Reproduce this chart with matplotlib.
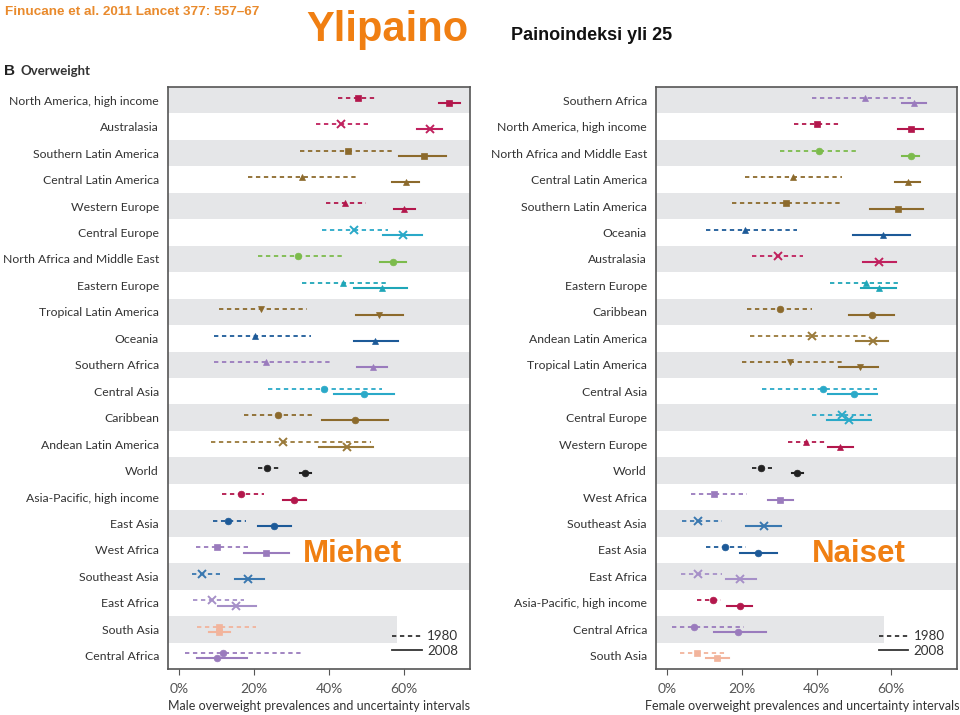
import matplotlib.pyplot as plt
from matplotlib.lines import Line2D

# Miehet (male) overweight prevalence, %
male_regions = ["North America, high income", "Australasia", "Southern Latin America",
                "Central Latin America", "Western Europe", "Central Europe",
                "North Africa and Middle East", "Eastern Europe", "Tropical Latin America",
                "Oceania", "Southern Africa", "Central Asia", "Caribbean",
                "Andean Latin America", "World", "Asia-Pacific, high income", "East Asia",
                "West Africa", "Southeast Asia", "East Africa", "South Asia", "Central Africa"]
male_1980 = [47.6, 43.1, 45.0, 32.7, 44.3, 46.7, 31.8, 43.8, 21.8, 20.3, 23.1, 38.7, 26.3,
             27.6, 23.5, 16.4, 12.9, 10.2, 6.2, 8.7, 10.7, 11.6]
male_1980_lo = [42.5, 36.5, 32.3, 18.3, 39.1, 38.1, 21.0, 32.7, 10.7, 9.2, 9.4, 23.8, 17.2,
                8.5, 21.1, 11.4, 9.0, 4.5, 3.4, 3.6, 4.7, 1.6]
male_1980_hi = [52.9, 50.3, 57.6, 47.6, 49.9, 55.6, 43.6, 55.2, 34.2, 35.2, 40.3, 54.2, 36.3,
                51.2, 26.8, 22.5, 17.9, 18.5, 10.9, 17.2, 20.5, 32.7]
male_2008 = [72.1, 66.8, 65.4, 60.4, 60.1, 59.8, 57.0, 54.0, 53.3, 52.3, 51.6, 49.4, 46.8,
             44.7, 33.6, 30.7, 25.3, 23.1, 18.3, 15.1, 10.5, 10.2]
male_2008_lo = [69.4, 63.4, 58.7, 56.7, 57.2, 54.3, 53.6, 46.7, 47.2, 46.7, 47.4, 41.2, 38.1,
                37.3, 32.1, 27.6, 20.9, 17.4, 14.8, 10.3, 8.0, 4.7]
male_2008_hi = [74.8, 70.2, 71.2, 64.1, 62.9, 64.7, 60.5, 60.9, 59.6, 58.3, 55.4, 57.2, 55.8,
                51.6, 35.1, 33.8, 29.8, 29.2, 22.5, 20.4, 13.6, 18.0]

# Naiset (female) overweight prevalence, %
female_regions = ["Southern Africa", "North America, high income", "North Africa and Middle East",
                  "Central Latin America", "Southern Latin America", "Oceania", "Australasia",
                  "Eastern Europe", "Caribbean", "Andean Latin America", "Tropical Latin America",
                  "Central Asia", "Central Europe", "Western Europe", "World", "West Africa",
                  "Southeast Asia", "East Asia", "East Africa", "Asia-Pacific, high income",
                  "Central Africa", "South Asia"]
female_1980 = [52.9, 40.0, 40.7, 33.8, 31.8, 20.9, 29.6, 53.3, 30.1, 38.7, 33.0, 41.6, 46.9,
               37.3, 25.2, 12.5, 8.3, 15.6, 8.3, 12.3, 7.2, 8.1]
female_1980_lo = [38.9, 33.9, 30.3, 20.9, 17.4, 10.5, 22.8, 43.6, 21.4, 22.3, 20.0, 25.4, 38.9,
                  32.3, 22.8, 6.3, 4.0, 10.3, 3.8, 8.0, 1.3, 3.4]
female_1980_hi = [65.4, 46.5, 51.2, 46.8, 46.7, 34.8, 36.5, 62.5, 38.8, 53.6, 46.9, 56.3, 54.5,
                  42.5, 28.1, 21.4, 14.7, 21.2, 14.7, 14.5, 20.5, 16.0]
female_2008 = [66.1, 65.4, 65.2, 64.4, 61.8, 57.8, 56.7, 56.7, 54.9, 55.1, 51.6, 50.1, 48.7,
               46.3, 34.9, 30.2, 25.8, 24.3, 19.6, 19.4, 19.1, 13.4]
female_2008_lo = [63.0, 61.9, 62.9, 61.0, 54.2, 49.9, 52.5, 51.8, 48.7, 50.5, 46.1, 43.2, 42.9,
                  43.2, 33.4, 26.9, 21.2, 19.4, 15.8, 16.0, 12.5, 10.5]
female_2008_hi = [69.2, 68.5, 67.4, 67.8, 68.5, 65.0, 61.2, 61.3, 60.7, 59.1, 56.5, 56.1, 54.5,
                  49.8, 36.4, 33.6, 30.5, 29.3, 23.8, 22.7, 26.5, 16.5]

ticks = [0, 20, 40, 60]
tick_labels = ["0%", "20%", "40%", "60%"]

# region styles: colour, marker
CRIMSON = "#b3174c"
BROWN = "#8c6a2c"
CYAN = "#2aa9c8"
DBLUE = "#1d5a98"
PURPLE = "#9a7bbd"
style = {
    "North America, high income": (CRIMSON, "s"),
    "Australasia": ("#c0215e", "x"),
    "Southern Latin America": (BROWN, "s"),
    "Central Latin America": (BROWN, "^"),
    "Western Europe": (CRIMSON, "^"),
    "Central Europe": (CYAN, "x"),
    "North Africa and Middle East": ("#7cbb4c", "o"),
    "Eastern Europe": ("#1fa6b8", "^"),
    "Tropical Latin America": (BROWN, "v"),
    "Oceania": (DBLUE, "^"),
    "Southern Africa": (PURPLE, "^"),
    "Central Asia": (CYAN, "o"),
    "Caribbean": (BROWN, "o"),
    "Andean Latin America": ("#9a7a3a", "x"),
    "World": ("#222222", "o"),
    "Asia-Pacific, high income": (CRIMSON, "o"),
    "East Asia": (DBLUE, "o"),
    "West Africa": (PURPLE, "s"),
    "Southeast Asia": ("#3a78b0", "x"),
    "East Africa": ("#a690c8", "x"),
    "South Asia": ("#f2b49c", "s"),
    "Central Africa": (PURPLE, "o"),
}

ORANGE = "#f07f12"
DASH = (0, (2.4, 2.0))


def draw_panel(ax, regions, v80, lo80, hi80, v08, lo08, hi08, xlabel):
    n = len(regions)
    for i in range(0, n, 2):
        xmax = 0.757 if i == n - 2 else 1.0
        ax.axhspan(i - 0.5, i + 0.5, xmin=0, xmax=xmax, color="#e5e6e8", lw=0, zorder=0)
    for i, r in enumerate(regions):
        c, m = style[r]
        ms = 5.5 if m == "x" else 4.8
        mew = 1.4 if m == "x" else 0.5
        ax.plot([lo80[i], hi80[i]], [i - 0.1, i - 0.1], color=c, ls=DASH, lw=1.3, zorder=2)
        ax.plot(v80[i], i - 0.1, marker=m, color=c, ms=ms, mew=mew, zorder=3)
        ax.plot([lo08[i], hi08[i]], [i + 0.1, i + 0.1], color=c, lw=1.5, zorder=2)
        ax.plot(v08[i], i + 0.1, marker=m, color=c, ms=ms, mew=mew, zorder=3)
    ax.set_xlim(-3, 77.6)
    ax.set_ylim(n - 0.5, -0.5)
    ax.set_yticks(range(n))
    ax.set_yticklabels(regions, fontsize=8.8, color="#333333", family="Lato")
    ax.tick_params(axis="y", length=0, pad=6.5)
    ax.set_xticks(ticks)
    ax.set_xticklabels(tick_labels, fontsize=10, color="#555555", family="Lato")
    ax.tick_params(axis="x", length=4, color="#555555", pad=6)
    for s in ax.spines.values():
        s.set_color("#555555")
        s.set_linewidth(1.2)
    ax.set_xlabel(xlabel, fontsize=9.0, color="#333333", family="Lato", labelpad=4)
    handles = [Line2D([], [], color="#333333", ls=DASH, lw=1.3),
               Line2D([], [], color="#333333", lw=1.3)]
    leg = ax.legend(handles, ["1980", "2008"], loc="lower right", frameon=False,
                    handlelength=2.2, handletextpad=0.4, labelspacing=0.2,
                    borderaxespad=0.5, prop={"family": "Lato", "size": 9.6})
    for t in leg.get_texts():
        t.set_color("#333333")


fig = plt.figure(figsize=(9.6, 7.15), dpi=100)
ax1 = fig.add_axes([0.175, 0.0643, 0.3146, 0.814])
ax2 = fig.add_axes([0.6833, 0.0643, 0.3135, 0.814])

draw_panel(ax1, male_regions, male_1980, male_1980_lo, male_1980_hi,
           male_2008, male_2008_lo, male_2008_hi,
           "Male overweight prevalences and uncertainty intervals")
draw_panel(ax2, female_regions, female_1980, female_1980_lo, female_1980_hi,
           female_2008, female_2008_lo, female_2008_hi,
           "Female overweight prevalences and uncertainty intervals")
ax2.xaxis.label.set_x(0.485)

fig.text(0.005, 0.991, "Finucane et al. 2011 Lancet 377: 557\u201367", color="#e98a2c",
         fontsize=9.7, fontweight="bold", family="Liberation Sans",
         va="top", ha="left")
fig.text(0.319, 0.958, "Ylipaino", color=ORANGE, fontsize=30, fontweight="bold",
         family="Liberation Sans", va="center", ha="left")
fig.text(0.532, 0.951, "Painoindeksi yli 25", color="#111111", fontsize=13,
         fontweight="bold", family="Liberation Sans", va="center", ha="left")
fig.text(0.004, 0.901, "B", color="#222222", fontsize=11, fontweight="bold",
         family="Liberation Sans", va="center", ha="left")
fig.text(0.021, 0.901, "Overweight", color="#333333", fontsize=9.5, fontweight="bold",
         family="Lato", va="center", ha="left")
fig.text(0.367, 0.225, "Miehet", color=ORANGE, fontsize=22.5, fontweight="bold",
         family="Liberation Sans", va="center", ha="center")
fig.text(0.895, 0.225, "Naiset", color=ORANGE, fontsize=22.5, fontweight="bold",
         family="Liberation Sans", va="center", ha="center")

fig.savefig("out.png", dpi=100)
